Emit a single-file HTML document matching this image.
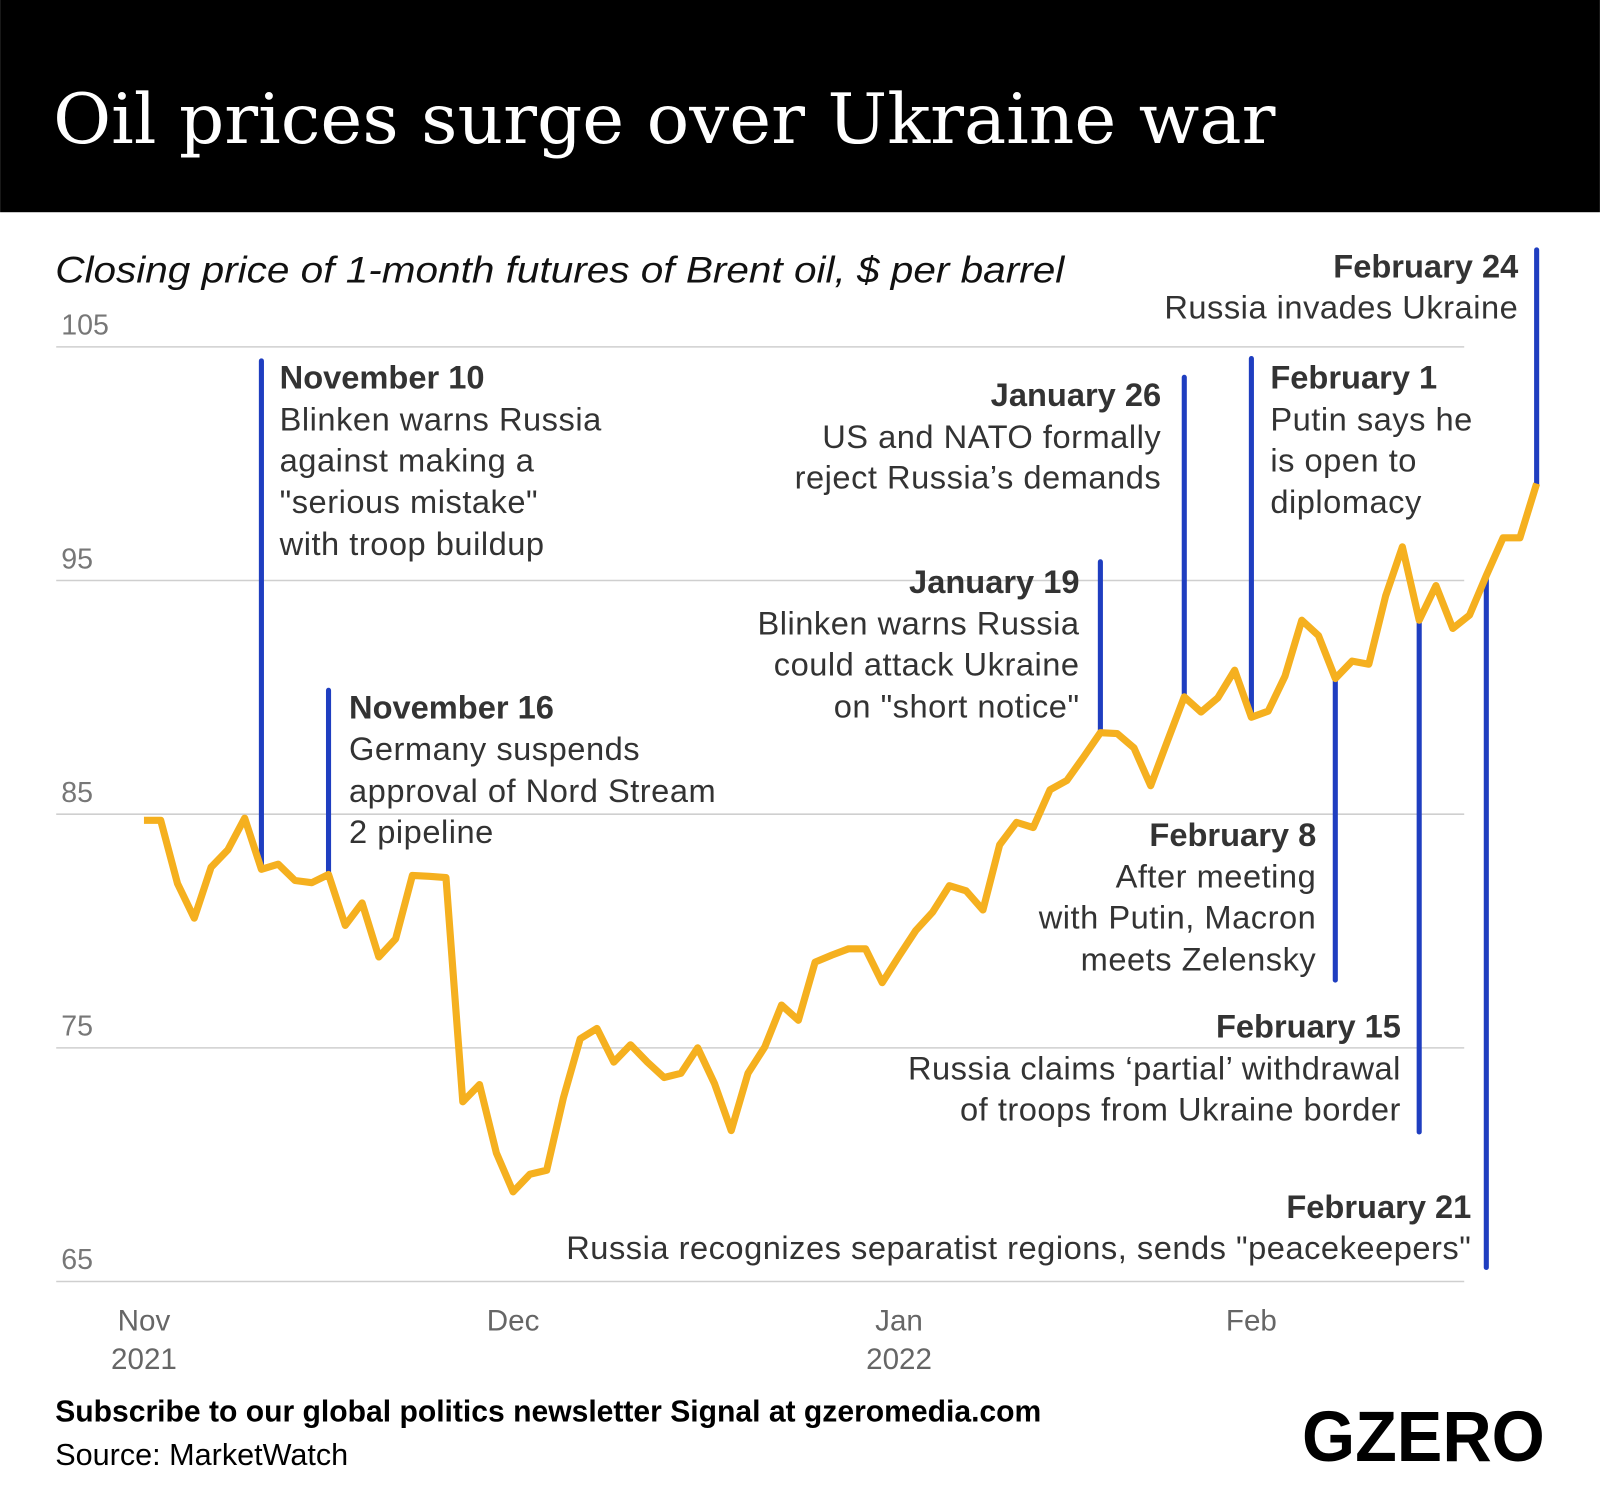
<!DOCTYPE html>
<html><head><meta charset="utf-8"><style>
html,body{margin:0;padding:0;background:#fff}
svg{display:block}
text{font-family:"Liberation Sans",sans-serif}
.ann{font-size:32px;fill:#333;letter-spacing:0.5px}
.b{font-weight:bold;letter-spacing:0}
</style></head><body>
<svg id="chart" width="1600" height="1509" viewBox="0 0 1568 1479" xmlns="http://www.w3.org/2000/svg">
<rect x="0" y="0" width="1568" height="208" fill="#000"/>
<text x="52" y="140" fill="#fff" font-size="68" style="font-family:'DejaVu Serif','Liberation Serif',serif" textLength="1198" lengthAdjust="spacingAndGlyphs">Oil prices surge over Ukraine war</text>
<text x="54" y="277" fill="#111" font-size="36" font-style="italic" textLength="989" lengthAdjust="spacingAndGlyphs">Closing price of 1-month futures of Brent oil, $ per barrel</text>
<g id="grid"></g>
<g id="xaxis"></g>
<g id="events"></g>
<g id="line"></g>
<g id="notes">
<g>
<text class="ann b" x="274" y="381">November 10</text>
<text class="ann" x="274" y="422">Blinken warns Russia</text>
<text class="ann" x="274" y="462">against making a</text>
<text class="ann" x="274" y="503">"serious mistake"</text>
<text class="ann" x="274" y="544">with troop buildup</text></g>
<g>
<text class="ann b" x="342" y="704">November 16</text>
<text class="ann" x="342" y="745">Germany suspends</text>
<text class="ann" x="342" y="786">approval of Nord Stream</text>
<text class="ann" x="342" y="826">2 pipeline</text></g>
<g text-anchor="end">
<text class="ann b" x="1138" y="398">January 26</text>
<text class="ann" x="1138" y="439">US and NATO formally</text>
<text class="ann" x="1138" y="479">reject Russia’s demands</text></g>
<g>
<text class="ann b" x="1245" y="381">February 1</text>
<text class="ann" x="1245" y="422">Putin says he</text>
<text class="ann" x="1245" y="462">is open to</text>
<text class="ann" x="1245" y="503">diplomacy</text></g>
<g text-anchor="end">
<text class="ann b" x="1058" y="581">January 19</text>
<text class="ann" x="1058" y="622">Blinken warns Russia</text>
<text class="ann" x="1058" y="662">could attack Ukraine</text>
<text class="ann" x="1058" y="703">on "short notice"</text></g>
<g text-anchor="end">
<text class="ann b" x="1290" y="829">February 8</text>
<text class="ann" x="1290" y="870">After meeting</text>
<text class="ann" x="1290" y="910">with Putin, Macron</text>
<text class="ann" x="1290" y="951">meets Zelensky</text></g>
<g text-anchor="end">
<text class="ann b" x="1373" y="1017">February 15</text>
<text class="ann" x="1373" y="1058">Russia claims ‘partial’ withdrawal</text>
<text class="ann" x="1373" y="1098">of troops from Ukraine border</text></g>
<g text-anchor="end">
<text class="ann b" x="1442" y="1194">February 21</text>
<text class="ann" x="1442" y="1234">Russia recognizes separatist regions, sends "peacekeepers"</text></g>
<g text-anchor="end">
<text class="ann b" x="1488" y="272">February 24</text>
<text class="ann" x="1488" y="312">Russia invades Ukraine</text></g>
</g>
<text x="54" y="1393" font-size="29.5" font-weight="bold" fill="#000">Subscribe to our global politics newsletter Signal at gzeromedia.com</text>
<text x="54" y="1436" font-size="30" fill="#000">Source: MarketWatch</text>
<text x="1514" y="1432" text-anchor="end" font-size="70" font-weight="bold" fill="#000" textLength="238" lengthAdjust="spacingAndGlyphs">GZERO</text>
</svg>
<script>
const prices = [84.74,84.74,82.03,80.55,82.73,83.47,84.83,82.64,82.86,82.16,82.07,82.42,80.24,81.20,78.89,79.67,82.38,82.34,82.29,72.69,73.43,70.50,68.84,69.59,69.76,72.86,75.39,75.83,74.39,75.13,74.39,73.73,73.91,75.00,73.47,71.46,73.91,75.04,76.83,76.18,78.67,78.97,79.24,79.24,77.79,78.93,80.02,80.81,81.94,81.72,80.90,83.69,84.65,84.43,86.05,86.44,87.45,88.49,88.45,87.84,86.22,88.14,90.02,89.37,89.98,91.16,89.15,89.41,90.90,93.30,92.64,90.81,91.55,91.42,94.34,96.44,93.30,94.78,92.95,93.52,95.22,96.83,96.83,99.15];
const yTicks = [105,95,85,75,65];
const xTickIndex = [0,22,45,66];
const xTickMonth = ["Nov","Dec","Jan","Feb"];
const xTickYear = ["2021","","2022",""];
const eventIndex = [7,11,57,62,66,71,76,80,83];
const eventName = ["nov-10","nov-16","jan-19","jan-26","feb-1","feb-8","feb-15","feb-21","feb-24"];
const eventEndValue = [104.4,90.3,95.8,103.7,104.5,77.9,71.4,65.6,109.15];

const NS="http://www.w3.org/2000/svg";
const X0=141,X1=1506,Y105=340,PX=22.9;
function xs(i){return X0+i*(X1-X0)/(prices.length-1);}
function ys(v){return Y105+(105-v)*PX;}
function mk(tag,attrs,parent){const e=document.createElementNS(NS,tag);for(const k in attrs)e.setAttribute(k,attrs[k]);parent.appendChild(e);return e;}

const grid=document.getElementById('grid');
yTicks.forEach(t=>{
  const l=mk('line',{x1:55,x2:1435,y1:ys(t),y2:ys(t),stroke:'#cfcfcf','stroke-width':1.5},grid);
  
  
  const tx=mk('text',{x:60,y:ys(t)-12,'font-size':28,fill:'#777'},grid);
  tx.textContent=t;
  
  
});
const xa=document.getElementById('xaxis');
xTickIndex.forEach((i,k)=>{
  const a=mk('text',{x:xs(i),y:1304,'font-size':29,fill:'#666','text-anchor':'middle'},xa);
  a.textContent=xTickMonth[k];
  
  
  if(xTickYear[k]){
    const b=mk('text',{x:xs(i),y:1342,'font-size':29,fill:'#666','text-anchor':'middle'},xa);
    b.textContent=xTickYear[k];
    
    
  }
});
const ev=document.getElementById('events');
eventIndex.forEach((i,k)=>{
  const l=mk('line',{x1:xs(i),x2:xs(i),y1:ys(prices[i]),y2:ys(eventEndValue[k]),stroke:'#1f3ec0','stroke-width':5,'stroke-linecap':'round'},ev);
  
  
});
const lg=document.getElementById('line');
const p=mk('polyline',{points:prices.map((v,i)=>xs(i).toFixed(1)+','+ys(v).toFixed(1)).join(' '),fill:'none',stroke:'#f5b01f','stroke-width':7,'stroke-linejoin':'round'},lg);


</script>
</body></html>
